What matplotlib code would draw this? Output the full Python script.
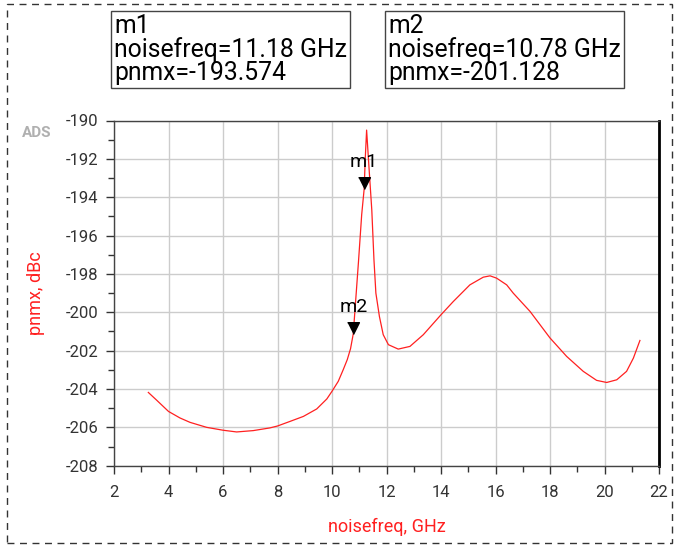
import matplotlib.pyplot as plt
from matplotlib.patches import Rectangle
from matplotlib.ticker import MultipleLocator

plt.rcParams['font.family'] = ['Roboto', 'DejaVu Sans']
plt.rcParams['axes.unicode_minus'] = False

# phase noise curve read from the simulation result
noisefreq = [3.26, 3.57, 4.0, 4.42, 4.79, 5.40, 6.0, 6.50, 7.11, 7.72, 8.0,
             8.46, 8.95, 9.44, 9.81, 10.0, 10.23, 10.41, 10.56, 10.68, 10.78,
             10.97, 11.09, 11.18, 11.22, 11.27, 11.36, 11.46, 11.54, 11.61,
             11.74, 11.88, 12.07, 12.43, 12.86, 13.35, 14.0, 14.45, 15.06,
             15.55, 15.80, 16.04, 16.41, 16.65, 17.27, 18.0, 18.61, 19.22,
             19.71, 20.08, 20.45, 20.81, 21.06, 21.30]
pnmx = [-204.18, -204.59, -205.17, -205.51, -205.74, -206.0, -206.15, -206.24,
        -206.17, -206.03, -205.93, -205.69, -205.43, -205.04, -204.52, -204.12,
        -203.6, -203.0, -202.47, -201.9, -201.128, -197.4, -194.9, -193.574,
        -192.0, -190.5, -192.5, -194.66, -197.27, -199.0, -200.22, -201.17,
        -201.69, -201.92, -201.78, -201.17, -200.13, -199.44, -198.57, -198.17,
        -198.1, -198.22, -198.57, -199.0, -199.96, -201.34, -202.3, -203.08,
        -203.55, -203.66, -203.52, -203.08, -202.39, -201.47]

markers = ['m1', 'm2']
marker_freq = [11.18, 10.78]
marker_val = [-193.574, -201.128]

fig = plt.figure(figsize=(6.75, 5.47), dpi=100)
ax = fig.add_axes([114 / 675, 1 - 465.7 / 547, 545 / 675, 345.2 / 547])

ax.plot(noisefreq, pnmx, color='#ff2020', linewidth=0.9)

# marker triangles sit with their tip on the data point
tri = [(-0.5, 1.0), (0.5, 1.0), (0.0, 0.0)]
for name, f, v in zip(markers, marker_freq, marker_val):
    ax.plot(f, v, marker=tri, markersize=17, color='black', linestyle='none',
            zorder=5)
    ax.annotate(name, (f, v), xytext=(0, 13), textcoords='offset points',
                ha='center', va='bottom', fontsize=14, color='black')

ax.set_xlim(2, 22)
ax.set_ylim(-208, -190)
ax.xaxis.set_major_locator(MultipleLocator(2))
ax.xaxis.set_minor_locator(MultipleLocator(1))
ax.yaxis.set_major_locator(MultipleLocator(2))
ax.yaxis.set_minor_locator(MultipleLocator(1))
ax.grid(True, which='major', color='#cccccc', linewidth=1)
ax.set_axisbelow(True)

ax.tick_params(which='major', length=6, width=1, color='#333333',
               labelsize=12, labelcolor='#333333')
ax.tick_params(axis='x', which='major', pad=8)
ax.tick_params(axis='y', which='major', pad=5)
ax.tick_params(which='minor', length=4, width=1, color='#333333')
for side in ['left', 'bottom', 'top']:
    ax.spines[side].set_color('#444444')
    ax.spines[side].set_linewidth(1)
ax.spines['right'].set_color('black')
ax.spines['right'].set_linewidth(2)

ax.set_xlabel('noisefreq, GHz', color='#ff2020', fontsize=13, labelpad=13)
ax.set_ylabel('pnmx, dBc', color='#ff2020', fontsize=13, labelpad=15)

fig.text(22 / 675, 1 - 133 / 547, 'ADS', fontsize=11, color='#b0b0b0',
         fontweight='bold', va='center', ha='left')

# marker readout boxes
box = dict(boxstyle='square,pad=0.12', facecolor='white', edgecolor='#444444',
           linewidth=1)
fig.text(114 / 675, 1 - 14 / 547,
         'm1\nnoisefreq=11.18 GHz\npnmx=-193.574',
         fontsize=17.8, va='top', ha='left', linespacing=0.95, bbox=box)
fig.text(388 / 675, 1 - 14 / 547,
         'm2\nnoisefreq=10.78 GHz\npnmx=-201.128',
         fontsize=17.8, va='top', ha='left', linespacing=0.95, bbox=box)

# dashed frame around the plot window
fig.patches.append(Rectangle((7 / 675, 4 / 547), 665 / 675, 539 / 547,
                             transform=fig.transFigure, fill=False,
                             edgecolor='#333333', linestyle=(0, (5, 4)),
                             linewidth=1))

fig.savefig('out.png', dpi=100)
